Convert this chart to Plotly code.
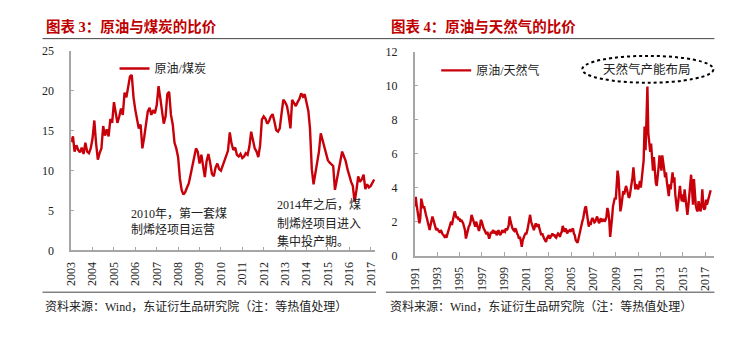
import pandas as pd
import plotly.graph_objects as go

W, H = 748, 338

# ---------------- data ----------------
# 原油/煤炭 monthly ratio, Jan 2003 - Mar 2017
coal_ratio = [
    13.6, 14.3, 12.4, 13.2, 12.6, 12.3, 12.9, 12.1, 13.5, 12.4, 12.2, 12.8,   # 2003
    14.0, 16.3, 13.5, 11.4, 12.2, 12.8, 15.6, 14.4, 15.2, 14.3, 16.5, 16.0,   # 2004
    18.6, 17.2, 16.0, 16.8, 17.8, 17.0, 19.8, 19.2, 20.4, 21.8, 22.0, 19.2,   # 2005
    17.6, 16.4, 15.3, 15.8, 12.8, 14.2, 15.5, 17.4, 17.9, 17.0, 17.6, 17.2,   # 2006
    18.2, 20.6, 19.2, 17.6, 15.9, 16.8, 19.6, 19.9, 17.0, 15.8, 13.5, 12.8,   # 2007
    11.7, 9.0, 7.6, 7.0, 7.3, 7.9, 8.4, 9.5, 10.6, 11.9, 12.8, 12.4,          # 2008
    10.9, 12.0, 10.4, 9.2, 11.2, 12.1, 11.0, 9.6, 9.3, 10.4, 10.9, 10.2,      # 2009
    10.0, 10.6, 11.2, 11.8, 12.5, 14.8, 13.4, 12.6, 12.9, 12.0, 11.8, 12.1,   # 2010
    11.6, 11.8, 12.2, 12.0, 13.0, 14.9, 14.0, 12.8, 12.4, 11.7, 13.2, 16.4,   # 2011
    16.8, 16.5, 15.9, 16.2, 16.8, 17.1, 16.2, 15.1, 14.9, 15.3, 17.2, 18.9,   # 2012
    18.6, 18.1, 17.0, 15.3, 18.9, 18.4, 18.1, 18.6, 19.0, 19.7, 19.3, 19.6,   # 2013
    18.6, 17.5, 15.3, 10.2, 8.3, 9.6, 10.8, 12.4, 14.7, 13.8, 12.9, 12.2,     # 2014
    11.3, 11.0, 10.8, 10.6, 7.6, 9.0, 10.0, 11.2, 12.4, 11.8, 11.2, 10.2,     # 2015
    9.3, 8.6, 8.1, 6.1, 7.5, 9.3, 8.6, 8.9, 9.5, 7.7, 8.3, 7.9,               # 2016
    8.1, 8.6, 8.9,                                                             # 2017
]
coal_start = "2003-01-01"

# 原油/天然气 monthly ratio, Jan 1991 - Jul 2017
gas_ratio = [
    2.9, 3.45, 3.0, 2.7, 2.3, 1.9, 2.2, 3.35, 3.1, 2.8, 2.9, 2.5,     # 1991
    2.4, 2.2, 1.9, 1.6, 1.5, 1.8, 2.0, 2.3, 2.1, 1.8, 1.7, 1.5,       # 1992
    1.6, 1.5, 1.4, 1.35, 1.5, 1.3, 1.25, 1.2, 1.1, 1.15, 1.05, 1.25,  # 1993
    1.5, 1.7, 1.8, 2.0, 1.8, 2.1, 2.3, 2.6, 2.4, 2.2, 2.3, 2.1,       # 1994
    2.2, 2.0, 2.1, 2.0, 1.9, 1.7, 1.5, 1.0, 1.3, 1.5, 1.7, 1.8,       # 1995
    2.0, 2.4, 2.2, 2.1, 1.9, 1.7, 2.0, 1.8, 1.6, 1.45, 1.7, 2.1,      # 1996
    2.0, 1.7, 1.6, 1.5, 1.3, 1.25, 1.4, 1.1, 1.0, 1.2, 1.4, 1.3,      # 1997
    1.5, 1.4, 1.3, 1.45, 1.2, 1.3, 1.5, 1.3, 1.2, 1.35, 1.5, 1.4,     # 1998
    1.45, 1.4, 1.6, 1.5, 1.6, 1.8, 2.3, 2.0, 1.7, 1.6, 1.5, 1.45,     # 1999
    1.6, 1.5, 1.3, 1.2, 1.0, 1.1, 0.85, 0.52, 0.9, 1.1, 1.2, 1.3,     # 2000
    1.3, 1.5, 1.8, 2.2, 2.4, 2.0, 1.8, 1.6, 1.5, 1.7, 1.9, 1.7,       # 2001
    1.8, 1.85, 1.6, 1.4, 1.2, 1.3, 1.1, 1.0, 0.9, 0.8, 1.0, 1.1,      # 2002
    1.2, 1.0, 1.1, 1.2, 1.3, 1.15, 1.25, 1.1, 1.05, 1.2, 1.3, 1.25,   # 2003
    1.1, 1.3, 1.4, 1.75, 1.5, 1.4, 1.6, 1.45, 1.3, 1.5, 1.4, 1.55,    # 2004
    1.45, 1.5, 1.6, 1.3, 1.2, 0.9, 0.8, 0.75, 1.0, 1.3, 1.6, 1.8,     # 2005
    2.0, 2.2, 2.6, 2.8, 2.9, 2.4, 1.9, 1.7, 2.0, 1.8, 2.1, 2.2,       # 2006
    2.1, 1.95, 2.0, 2.2, 2.3, 2.1, 1.9, 2.05, 2.2, 2.0, 2.1, 2.15,    # 2007
    2.0, 2.1, 2.3, 2.8, 2.6, 2.1, 1.1, 1.5, 2.2, 2.9, 3.3, 3.4,       # 2008
    3.3, 4.1, 5.0, 4.6, 3.8, 2.6, 2.9, 3.4, 3.8, 3.6, 3.9, 4.1,       # 2009
    3.9, 3.6, 3.4, 3.5, 3.8, 4.2, 4.6, 5.2, 4.4, 3.9, 4.2, 4.0,       # 2010
    3.9, 4.1, 4.4, 4.0, 4.6, 5.2, 5.6, 7.6, 6.2, 8.0, 9.95, 7.2,      # 2011
    6.8, 6.1, 6.6, 5.6, 5.0, 5.8, 4.7, 4.3, 4.1, 4.5, 5.2, 5.9,       # 2012
    5.4, 5.0, 5.9, 5.6, 5.1, 4.6, 4.9, 4.3, 3.8, 3.5, 4.2, 3.9,       # 2013
    4.4, 4.9, 4.3, 4.6, 3.6, 3.2, 2.6, 3.1, 3.8, 4.1, 3.5, 3.2,       # 2014
    3.6, 3.15, 3.9, 3.4, 2.8, 2.4, 2.9, 3.5, 4.1, 4.76, 3.9, 3.0,     # 2015
    4.5, 3.6, 2.97, 2.7, 2.6, 3.2, 2.8, 2.6, 2.9, 3.9, 3.0, 2.7,      # 2016
    2.8, 3.3, 3.0, 3.2, 3.5, 3.7, 3.85,                               # 2017
]
gas_start = "1991-01-01"

coal_years = list(range(2003, 2018))
gas_years = list(range(1991, 2018, 2))

title_left = "图表 3：原油与煤炭的比价"
title_right = "图表 4：原油与天然气的比价"
legend_left = "原油/煤炭"
legend_right = "原油/天然气"
note_2010 = "2010年，第一套煤<br>制烯烃项目运营"
note_2014_lines = ["2014年之后，煤", "制烯烃项目进入", "集中投产期。"]
ellipse_text = "天然气产能布局"
source_text = "资料来源：Wind，东证衍生品研究院（注：等热值处理）"

# ---------------- helpers ----------------
def X(px):
    return px / W

def Y(py):
    return 1 - py / H

RED = "#C8000A"
AXIS = "#A6A6A6"
TXT = "#222222"
FONT = "Liberation Serif, Noto Sans CJK SC, serif"

coal_dates = pd.date_range(coal_start, periods=len(coal_ratio), freq="MS")
gas_dates = pd.date_range(gas_start, periods=len(gas_ratio), freq="MS")

fig = go.Figure()
fig.add_trace(go.Scatter(x=coal_dates, y=coal_ratio, mode="lines", name=legend_left,
                         line=dict(color=RED, width=2.4), xaxis="x", yaxis="y",
                         legend="legend"))
fig.add_trace(go.Scatter(x=gas_dates, y=gas_ratio, mode="lines", name=legend_right,
                         line=dict(color=RED, width=2.4), xaxis="x2", yaxis="y2",
                         legend="legend2"))

axis_common = dict(showline=True, linecolor=AXIS, linewidth=1.5, showgrid=False,
                   zeroline=False, ticks="inside", tickcolor=AXIS, tickwidth=1,
                   tickfont=dict(family=FONT, size=12, color=TXT))

fig.update_layout(
    width=W, height=H, margin=dict(l=0, r=0, t=0, b=0),
    paper_bgcolor="white", plot_bgcolor="white",
    font=dict(family=FONT, color=TXT),
    xaxis=dict(domain=[X(65), X(373)], type="date",
               range=["2003-01-01", "2017-03-15"],
               tickvals=[pd.Timestamp(f"{y}-01-01") for y in coal_years],
               ticktext=[str(y) for y in coal_years],
               tickangle=-90, ticklen=4, anchor="y", ticklabelstandoff=5,
               **axis_common),
    yaxis=dict(domain=[Y(254), Y(46)], range=[0, 25], dtick=5, ticklen=3,
               anchor="x", ticklabelstandoff=13, **axis_common),
    xaxis2=dict(domain=[X(413.3), X(717)], type="date",
                range=["1991-01-01", "2017-11-01"],
                tickvals=[pd.Timestamp(f"{y}-01-01") for y in gas_years],
                ticktext=[str(y) for y in gas_years],
                tickangle=-90, ticklen=4, anchor="y2", ticklabelstandoff=5,
                **axis_common),
    yaxis2=dict(domain=[Y(259.3), Y(46.7)], range=[0, 12], dtick=2, ticklen=3,
                anchor="x2", ticklabelstandoff=13, **axis_common),
    legend=dict(x=X(109), y=Y(49), xanchor="left", yanchor="top",
                bgcolor="rgba(0,0,0,0)", font=dict(family=FONT, size=12, color=TXT),
                itemwidth=30, tracegroupgap=0),
    legend2=dict(x=X(435), y=Y(51), xanchor="left", yanchor="top",
                 bgcolor="rgba(0,0,0,0)", font=dict(family=FONT, size=12, color=TXT),
                 itemwidth=30, tracegroupgap=0),
    showlegend=True,
)

shapes = [
    # line under titles
    dict(type="line", xref="paper", yref="paper", x0=X(36), x1=X(717), y0=Y(33), y1=Y(33),
         line=dict(color="#444444", width=1)),
    # bottom separator lines
    dict(type="line", xref="paper", yref="paper", x0=X(36), x1=X(374), y0=Y(297.5), y1=Y(297.5),
         line=dict(color="#444444", width=1)),
    dict(type="line", xref="paper", yref="paper", x0=X(384), x1=X(717), y0=Y(297.5), y1=Y(297.5),
         line=dict(color="#444444", width=1)),
    # dotted ellipse
    dict(type="circle", xref="paper", yref="paper", x0=X(583), x1=X(716), y0=Y(79), y1=Y(51),
         line=dict(color="black", width=2, dash="dot")),
]

annotations = [
    dict(text=f"<b>{title_left}</b>", x=X(37), y=Y(20), xanchor="left", yanchor="middle",
         font=dict(family=FONT, size=14.5, color="#C00000")),
    dict(text=f"<b>{title_right}</b>", x=X(387), y=Y(20), xanchor="left", yanchor="middle",
         font=dict(family=FONT, size=14.5, color="#C00000")),
    dict(text=note_2010, x=X(124), y=Y(224), xanchor="left", yanchor="middle", align="left",
         font=dict(family=FONT, size=12, color=TXT)),
    dict(text=ellipse_text, x=X(649), y=Y(65), xanchor="center", yanchor="middle",
         font=dict(family=FONT, size=12.5, color=TXT)),
    dict(text=source_text, x=X(36), y=Y(312), xanchor="left", yanchor="middle",
         font=dict(family=FONT, size=12, color=TXT)),
    dict(text=source_text, x=X(386), y=Y(312), xanchor="left", yanchor="middle",
         font=dict(family=FONT, size=12, color=TXT)),
]
for i, line in enumerate(note_2014_lines):
    annotations.append(dict(text=line, x=X(272), y=Y(207 + 19 * i), xanchor="left",
                            yanchor="middle", font=dict(family=FONT, size=12, color=TXT)))
for a in annotations:
    a.update(xref="paper", yref="paper", showarrow=False)

fig.update_layout(shapes=shapes, annotations=annotations)
fig.write_html("out.html")
